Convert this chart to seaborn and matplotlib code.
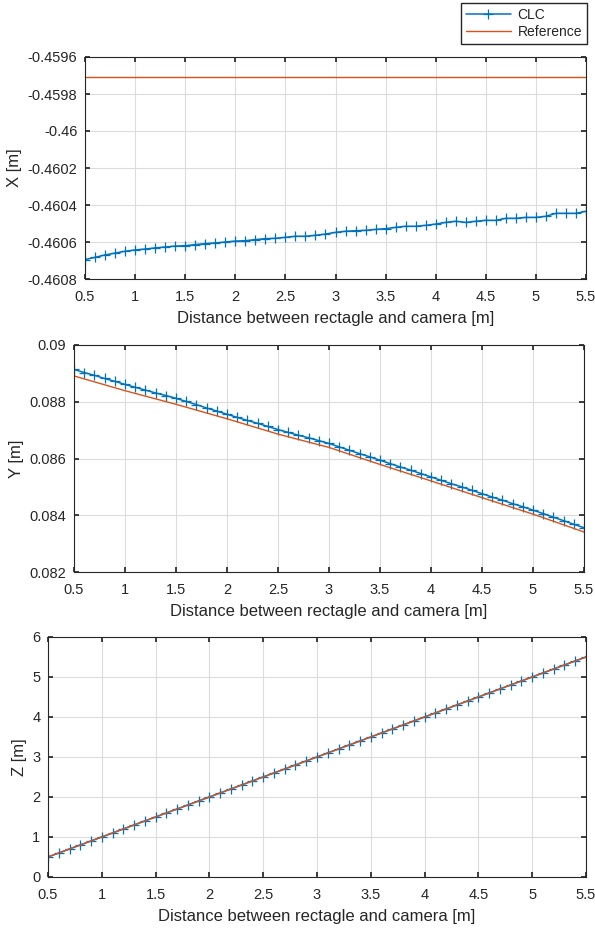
import matplotlib
matplotlib.use('Agg')
import matplotlib.pyplot as plt
import seaborn as sns
from matplotlib.ticker import FormatStrFormatter, MultipleLocator
from matplotlib.lines import Line2D

# distances between rectangle and camera [m]
distance = [0.5, 0.6, 0.7, 0.8, 0.9, 1.0, 1.1, 1.2, 1.3, 1.4,
            1.5, 1.6, 1.7, 1.8, 1.9, 2.0, 2.1, 2.2, 2.3, 2.4,
            2.5, 2.6, 2.7, 2.8, 2.9, 3.0, 3.1, 3.2, 3.3, 3.4,
            3.5, 3.6, 3.7, 3.8, 3.9, 4.0, 4.1, 4.2, 4.3, 4.4,
            4.5, 4.6, 4.7, 4.8, 4.9, 5.0, 5.1, 5.2, 5.3, 5.4, 5.5]

# CLC estimates
clc_x = [-0.460695, -0.460683, -0.460670, -0.460660, -0.460650, -0.460643, -0.460638, -0.460632, -0.460627, -0.460622,
         -0.460620, -0.460614, -0.460609, -0.460605, -0.460600, -0.460595, -0.460593, -0.460587, -0.460582, -0.460580,
         -0.460575, -0.460569, -0.460569, -0.460564, -0.460557, -0.460548, -0.460542, -0.460539, -0.460537, -0.460532,
         -0.460528, -0.460521, -0.460515, -0.460515, -0.460510, -0.460503, -0.460494, -0.460488, -0.460494, -0.460488,
         -0.460483, -0.460483, -0.460472, -0.460472, -0.460467, -0.460467, -0.460461, -0.460445, -0.460445, -0.460445,
         -0.460434]
clc_y = [0.08914, 0.08903, 0.08893, 0.08882, 0.08872, 0.08861, 0.08851, 0.08841, 0.08831, 0.08822,
         0.08812, 0.08801, 0.08790, 0.08778, 0.08767, 0.08756, 0.08745, 0.08734, 0.08724, 0.08713,
         0.08702, 0.08692, 0.08682, 0.08673, 0.08663, 0.08653, 0.08641, 0.08629, 0.08617, 0.08606,
         0.08594, 0.08582, 0.08570, 0.08559, 0.08547, 0.08535, 0.08523, 0.08511, 0.08500, 0.08488,
         0.08476, 0.08464, 0.08453, 0.08441, 0.08430, 0.08418, 0.08406, 0.08393, 0.08381, 0.08368,
         0.08356]
clc_z = [0.502, 0.601, 0.702, 0.801, 0.902, 1.002, 1.101, 1.202, 1.302, 1.401,
         1.502, 1.602, 1.701, 1.802, 1.902, 2.002, 2.101, 2.202, 2.302, 2.402,
         2.502, 2.602, 2.702, 2.802, 2.902, 3.002, 3.102, 3.202, 3.302, 3.402,
         3.502, 3.602, 3.702, 3.802, 3.902, 4.002, 4.102, 4.202, 4.302, 4.402,
         4.502, 4.602, 4.702, 4.802, 4.902, 5.002, 5.102, 5.202, 5.302, 5.402,
         5.502]

# reference values
ref_distance = [0.5, 1.0, 1.5, 2.0, 2.5, 3.0, 3.5, 4.0, 4.5, 5.0, 5.5]
ref_x = [-0.459707] * 11
ref_y = [0.08891, 0.08839, 0.08791, 0.08740, 0.08686, 0.08639, 0.08579, 0.08521, 0.08462, 0.08404, 0.08341]
ref_z = [0.5, 1.0, 1.5, 2.0, 2.5, 3.0, 3.5, 4.0, 4.5, 5.0, 5.5]

clc_color = '#0072BD'
ref_color = '#D95319'

sns.set_theme(style='whitegrid')
plt.rcParams['font.family'] = ['Liberation Sans', 'DejaVu Sans']
plt.rcParams.update({
    'axes.edgecolor': '#262626',
    'axes.linewidth': 0.8,
    'grid.color': '#dcdcdc',
    'grid.linewidth': 0.8,
    'xtick.direction': 'in',
    'ytick.direction': 'in',
    'xtick.top': True,
    'ytick.right': True,
    'xtick.bottom': True,
    'ytick.left': True,
    'xtick.major.size': 3.5,
    'ytick.major.size': 3.5,
    'xtick.color': '#262626',
    'ytick.color': '#262626',
    'xtick.labelsize': 10.5,
    'ytick.labelsize': 10.5,
})

fig = plt.figure(figsize=(5.95, 9.36), dpi=100)
ax1 = fig.add_axes([85/595, 1 - 279/936, 501/595, 222/936])
ax2 = fig.add_axes([74/595, 1 - 572/936, 510/595, 227/936])
ax3 = fig.add_axes([48/595, 1 - 877/936, 538/595, 240/936])

panels = [
    (ax1, clc_x, ref_x, 'X [m]', (-0.4608, -0.4596), 0.0002),
    (ax2, clc_y, ref_y, 'Y [m]', (0.082, 0.09), 0.002),
    (ax3, clc_z, ref_z, 'Z [m]', (0, 6), 1),
]

for ax, clc, ref, ylabel, ylim, step in panels:
    sns.lineplot(x=distance, y=clc, color=clc_color, linewidth=1.1, marker='+',
                 markersize=7, markeredgewidth=0.9, markeredgecolor=clc_color, ax=ax)
    sns.lineplot(x=ref_distance, y=ref, color=ref_color, linewidth=1.0, ax=ax)
    ax.set_xlim(0.5, 5.5)
    ax.set_ylim(*ylim)
    ax.xaxis.set_major_locator(MultipleLocator(0.5))
    ax.yaxis.set_major_locator(MultipleLocator(step))
    ax.xaxis.set_major_formatter(FormatStrFormatter('%g'))
    ax.yaxis.set_major_formatter(FormatStrFormatter('%g'))
    ax.tick_params(axis='x', pad=8, colors='#262626')
    ax.tick_params(axis='y', pad=5.5, colors='#262626')
    ax.set_xlabel('Distance between rectagle and camera [m]', fontsize=12, color='#262626', labelpad=5)
    ax.set_ylabel(ylabel, fontsize=12, color='#262626', labelpad=4)
    for s in ax.spines.values():
        s.set_visible(True)
        s.set_color('#262626')

handles = [
    Line2D([], [], color=clc_color, linewidth=1.1, marker='+', markersize=7, markeredgewidth=0.9),
    Line2D([], [], color=ref_color, linewidth=1.0),
]
fig.legend(handles, ['CLC', 'Reference'], loc='upper right',
           bbox_to_anchor=(587/595, 1 - 3/936), borderaxespad=0,
           fancybox=False, framealpha=1, edgecolor='#262626', fontsize=10,
           handlelength=3.2, labelspacing=0.25, borderpad=0.35, handletextpad=0.5)

plt.savefig('out.png', dpi=100)
plt.close()
